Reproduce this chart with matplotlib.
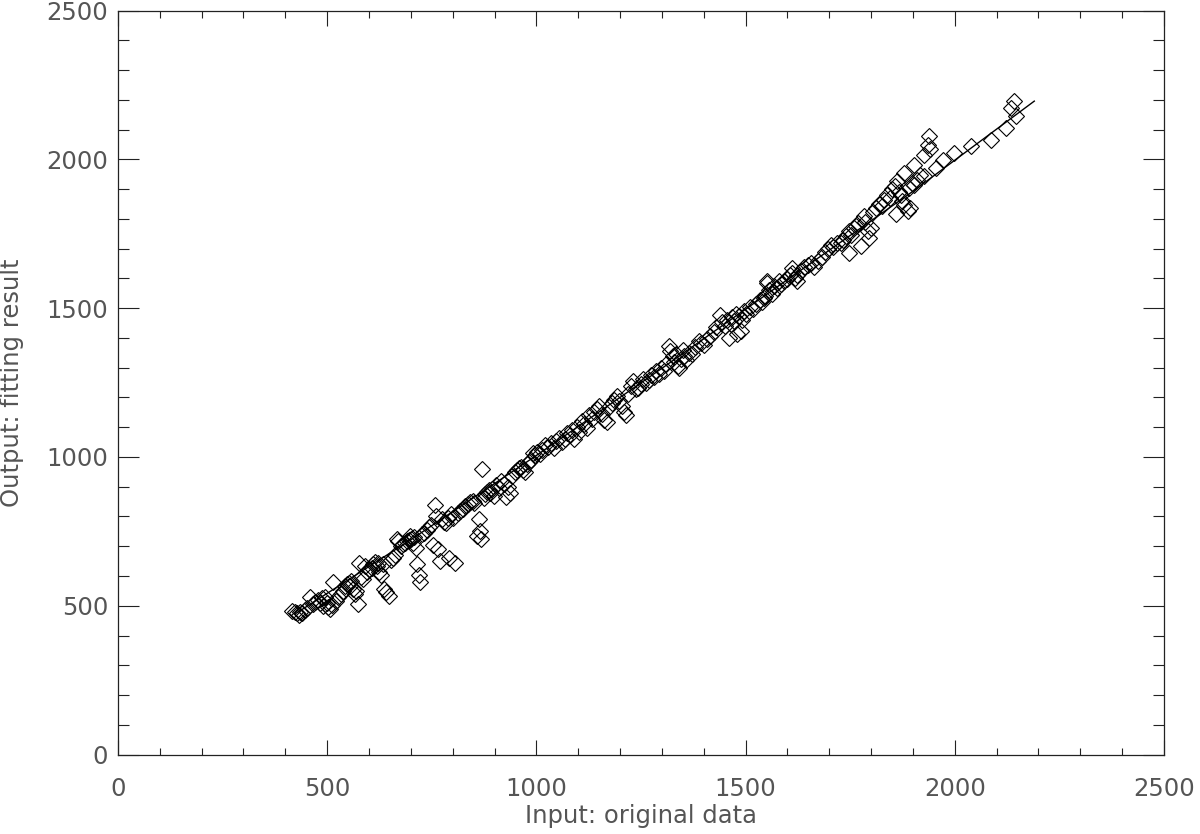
import numpy as np
import matplotlib

matplotlib.use("Agg")
import matplotlib.pyplot as plt
from matplotlib.ticker import MultipleLocator

# measured points, grouped by input range
INPUT_A = [415, 424, 428, 432, 436, 440, 446, 452, 460, 466, 472, 478, 483, 487, 491, 495, 499, 503, 507, 511, 515, 520]
OUTPUT_A = [482, 478, 474, 470, 478, 474, 486, 492, 528, 505, 512, 520, 508, 525, 498, 530, 510, 497, 489, 502, 580, 515]

INPUT_B = [526, 532, 538, 543, 547, 551, 555, 558, 562, 566, 570, 573, 576, 580, 585, 590, 596, 601, 606, 610,
           614, 618, 621, 625, 629, 633, 637, 641, 648, 652]
OUTPUT_B = [528, 540, 548, 565, 572, 576, 568, 582, 556, 540, 550, 506, 645, 598, 590, 632, 612, 622, 628, 640,
            648, 635, 645, 612, 602, 640, 556, 545, 532, 655]

INPUT_C = [657, 662, 666, 670, 676, 681, 686, 691, 695, 698, 701, 704, 708, 712, 715, 719, 723, 727, 732, 738,
           744, 749, 754, 758, 760, 764, 770, 775, 779, 783, 788, 792, 797, 801, 806]
OUTPUT_C = [662, 672, 724, 716, 700, 706, 712, 718, 721, 733, 726, 710, 730, 694, 640, 602, 580, 742, 746, 755,
            765, 772, 703, 838, 800, 690, 651, 790, 782, 778, 796, 662, 808, 795, 645]

INPUT_D = [812, 818, 824, 830, 836, 842, 848, 852, 858, 862, 865, 868, 870, 874, 878, 883, 886, 890, 894, 898,
           904, 910, 916, 922, 927, 931, 936, 942, 948, 954, 958, 963, 968, 972, 977, 982, 987, 992, 997, 1002]
OUTPUT_D = [812, 818, 825, 836, 842, 848, 852, 846, 735, 790, 752, 726, 960, 862, 875, 882, 890, 880, 892, 870,
            905, 896, 918, 910, 866, 898, 880, 935, 948, 955, 962, 968, 956, 950, 975, 982, 990, 1012, 1005, 1018]

INPUT_E = [1008, 1014, 1020, 1028, 1035, 1042, 1048, 1055, 1062, 1068, 1074, 1080, 1086, 1090, 1096, 1102, 1108,
           1114, 1120, 1126, 1132, 1138, 1144, 1150, 1156, 1162, 1168, 1174, 1180, 1186, 1192, 1198, 1204, 1210,
           1214, 1220]
OUTPUT_E = [1010, 1025, 1040, 1035, 1048, 1030, 1055, 1065, 1050, 1062, 1080, 1075, 1092, 1060, 1100, 1085, 1120,
            1112, 1098, 1140, 1128, 1150, 1162, 1170, 1145, 1125, 1118, 1168, 1180, 1190, 1205, 1188, 1170, 1150,
            1140, 1210]

INPUT_F = [1226, 1232, 1238, 1244, 1250, 1256, 1262, 1268, 1274, 1280, 1286, 1292, 1298, 1304, 1310, 1316, 1320,
           1326, 1330, 1334, 1338, 1342, 1346, 1350, 1354, 1358, 1364, 1372, 1380, 1388, 1394, 1400, 1408]
OUTPUT_F = [1240, 1255, 1228, 1232, 1245, 1262, 1248, 1258, 1275, 1268, 1290, 1280, 1300, 1288, 1312, 1372, 1355,
            1338, 1320, 1345, 1305, 1298, 1330, 1360, 1340, 1325, 1350, 1345, 1368, 1390, 1382, 1376, 1395]

INPUT_G = [1416, 1424, 1430, 1438, 1444, 1450, 1456, 1460, 1464, 1468, 1472, 1476, 1480, 1484, 1488, 1492, 1496,
           1502, 1510, 1518, 1526, 1534, 1540, 1543, 1546, 1550, 1552, 1556, 1562, 1568, 1576, 1579, 1584, 1592,
           1600, 1606, 1612, 1612, 1618, 1624, 1624]
OUTPUT_G = [1405, 1420, 1438, 1478, 1455, 1440, 1462, 1400, 1448, 1470, 1458, 1482, 1412, 1475, 1425, 1462, 1490,
            1480, 1505, 1498, 1515, 1528, 1522, 1533, 1540, 1585, 1593, 1560, 1548, 1575, 1568, 1590, 1580, 1590,
            1598, 1612, 1620, 1634, 1600, 1590, 1610]

INPUT_H = [1632, 1640, 1648, 1656, 1664, 1674, 1682, 1690, 1697, 1703, 1710, 1718, 1727, 1734, 1740, 1746, 1746,
           1752, 1758, 1764, 1768, 1775, 1782, 1786, 1792, 1794, 1800, 1805, 1811, 1820, 1826]
OUTPUT_H = [1626, 1640, 1644, 1652, 1638, 1657, 1672, 1688, 1700, 1711, 1705, 1720, 1718, 1730, 1742, 1758, 1684,
            1746, 1770, 1776, 1785, 1708, 1809, 1790, 1758, 1735, 1770, 1822, 1838, 1850, 1845]

INPUT_I = [1832, 1839, 1845, 1851, 1856, 1859, 1863, 1867, 1871, 1875, 1878, 1878, 1887, 1890, 1894, 1898, 1902,
           1902, 1910, 1918, 1926, 1926, 1935, 1938, 1940, 1954, 1973, 1997, 2038, 2086, 2122, 2134, 2141, 2146]
OUTPUT_I = [1865, 1880, 1870, 1899, 1912, 1815, 1929, 1890, 1880, 1860, 1956, 1848, 1826, 1905, 1838, 1920, 1983,
            1914, 1930, 1948, 2016, 1944, 2050, 2079, 2035, 1971, 1998, 2021, 2045, 2065, 2106, 2173, 2197, 2146]

# fitted curve
FIT_X = [425, 700, 1000, 1300, 1600, 1900, 2190]
FIT_Y = [474, 722, 1005, 1298, 1596, 1893, 2196]

X_TICKS = [0, 500, 1000, 1500, 2000, 2500]
Y_TICKS = [0, 500, 1000, 1500, 2000, 2500]

INK = "#222222"
TEXT = "#555555"


def main():
    plt.rcParams["font.family"] = ["DejaVu Sans"]

    x = np.concatenate([INPUT_A, INPUT_B, INPUT_C, INPUT_D, INPUT_E, INPUT_F, INPUT_G, INPUT_H, INPUT_I])
    y = np.concatenate([OUTPUT_A, OUTPUT_B, OUTPUT_C, OUTPUT_D, OUTPUT_E, OUTPUT_F, OUTPUT_G, OUTPUT_H, OUTPUT_I])

    fig = plt.figure(figsize=(12, 8.34), dpi=100)
    ax = fig.add_axes([0.0983, 0.0953, 0.8717, 0.8919])

    ax.plot(x, y, linestyle="none", marker="D", markersize=7.8,
            markerfacecolor="none", markeredgecolor="black", markeredgewidth=0.8)
    ax.plot(FIT_X, FIT_Y, color="black", linewidth=1.0)

    ax.set_xlim(0, 2500)
    ax.set_ylim(0, 2500)
    ax.set_xticks(X_TICKS)
    ax.set_yticks(Y_TICKS)
    ax.xaxis.set_minor_locator(MultipleLocator(100))
    ax.yaxis.set_minor_locator(MultipleLocator(100))

    ax.tick_params(axis="both", which="both", direction="in", top=True, right=True,
                   color=INK, width=0.8, labelcolor=TEXT, labelsize=17.5)
    ax.tick_params(axis="x", which="major", length=10.8, pad=16)
    ax.tick_params(axis="x", which="minor", length=5.2)
    ax.tick_params(axis="y", which="major", length=15, pad=7)
    ax.tick_params(axis="y", which="minor", length=7.8)

    for side in ax.spines.values():
        side.set_color(INK)
        side.set_linewidth(0.9)

    ax.set_xlabel("Input: original data", fontsize=17.5, color=TEXT)
    ax.set_ylabel("Output: fitting result", fontsize=17.5, color=TEXT)
    ax.xaxis.set_label_coords(0.5, -0.066)
    ax.yaxis.set_label_coords(-0.09, 0.5)

    plt.savefig("out.png", dpi=100)


if __name__ == "__main__":
    main()
